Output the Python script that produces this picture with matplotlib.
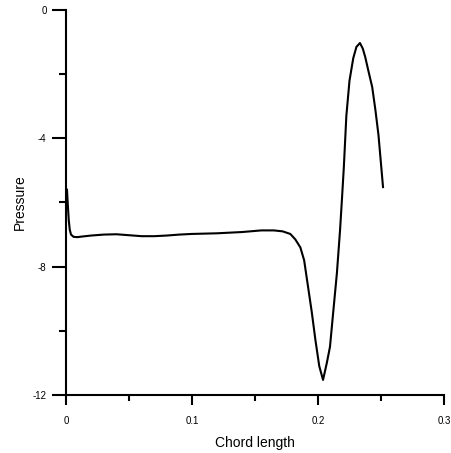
import numpy as np
import matplotlib.pyplot as plt
from matplotlib.ticker import MultipleLocator

# data
chord = [0.0008, 0.0015, 0.0022, 0.003, 0.004, 0.006, 0.009, 0.013, 0.02, 0.03,
         0.04, 0.05, 0.06, 0.07, 0.08, 0.09, 0.10, 0.12, 0.14, 0.155, 0.165,
         0.172, 0.178, 0.182, 0.186, 0.189, 0.192, 0.195, 0.198, 0.201, 0.204,
         0.207, 0.2095, 0.212, 0.215, 0.2175, 0.219, 0.2205, 0.2225, 0.225,
         0.228, 0.2305, 0.2333, 0.2355, 0.2375, 0.240, 0.243, 0.2455, 0.248,
         0.250, 0.2516]
pressure = [-5.6, -6.1, -6.55, -6.85, -7.0, -7.07, -7.08, -7.06, -7.03, -7.0,
            -6.99, -7.02, -7.05, -7.05, -7.03, -7.0, -6.98, -6.96, -6.92, -6.87,
            -6.87, -6.9, -6.98, -7.15, -7.4, -7.8, -8.6, -9.4, -10.3, -11.1, -11.53,
            -11.0, -10.5, -9.45, -8.2, -6.86, -5.9, -4.9, -3.3, -2.2,
            -1.5, -1.15, -1.03, -1.2, -1.47, -1.9, -2.4, -3.1, -3.9,
            -4.8, -5.52]

xticks = [0, 0.1, 0.2, 0.3]
xlabels = ['0', '0.1', '0.2', '0.3']
yticks = [0, -4, -8, -12]
ylabels = ['0', '-4', '-8', '-12']

plt.rcParams['font.family'] = ['Liberation Sans', 'DejaVu Sans']

fig = plt.figure(figsize=(4.51, 4.53), dpi=100)
ax = fig.add_axes([0.1463, 0.128, 0.8382, 0.85])

ax.plot(chord, pressure, color='black', lw=1.5)

ax.set_xlim(0, 0.3)
ax.set_ylim(-12, 0)
ax.set_xticks(xticks)
ax.set_xticklabels(xlabels)
ax.set_yticks(yticks)
ax.set_yticklabels(ylabels)
ax.xaxis.set_minor_locator(MultipleLocator(0.05))
ax.yaxis.set_minor_locator(MultipleLocator(2))

for s in ['top', 'right']:
	ax.spines[s].set_visible(False)
for s in ['left', 'bottom']:
	ax.spines[s].set_linewidth(1.5)

ax.tick_params(axis='x', which='major', direction='out', length=7, width=1.5, labelsize=7, pad=8)
ax.tick_params(axis='x', which='minor', direction='out', length=4, width=1.5)
ax.tick_params(axis='y', which='major', direction='out', length=10, width=1.5, labelsize=7, pad=4)
ax.tick_params(axis='y', which='minor', direction='out', length=5, width=1.5)

ax.set_xlabel('Chord length', fontsize=10, labelpad=7)
ax.set_ylabel('Pressure', fontsize=10, labelpad=4)

fig.savefig('out.png', dpi=100)
